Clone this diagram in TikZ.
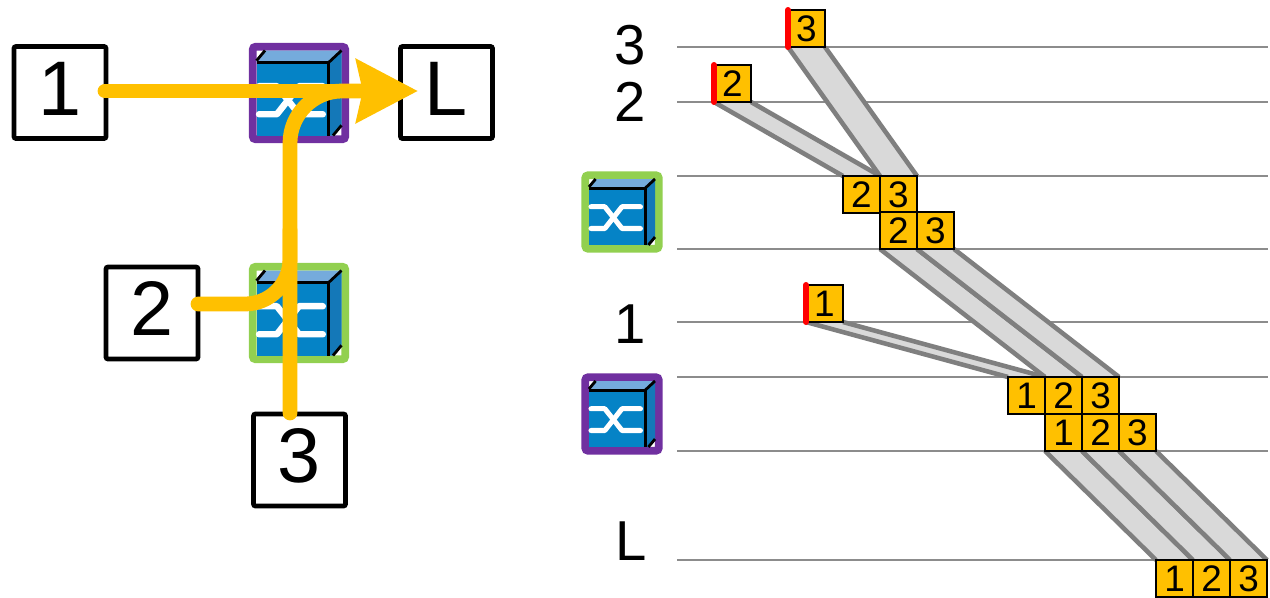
\documentclass[tikz,border=0pt]{standalone}
\usepackage{fontspec}
\setmainfont{Liberation Sans}
\usepackage{xcolor}
\usetikzlibrary{arrows.meta}
\usetikzlibrary{backgrounds}

\definecolor{flowyellow}{HTML}{FFC000}
\definecolor{swpurple}{HTML}{7030A0}
\definecolor{swgreen}{HTML}{92D050}
\definecolor{swfront}{HTML}{0583C6}
\definecolor{swside}{HTML}{1478B8}
\definecolor{swtop}{HTML}{75ABDC}
\definecolor{bandfill}{HTML}{D9D9D9}
\definecolor{bandline}{HTML}{7F7F7F}
\definecolor{rowline}{HTML}{8C8C8C}

\tikzset{
  hostbox/.style={draw=black,line width=1.35pt,rounded corners=0.6pt,minimum size=0.92cm,inner sep=0pt,outer sep=0pt,text depth=2.3pt,font=\fontsize{22}{22}\selectfont},
  swframe/.style={line width=2.2pt,rounded corners=0.8pt,inner sep=0pt,outer sep=0pt},
  flow/.style={draw=flowyellow,line width=4.2pt,line cap=round},
  packet/.style={draw=black,line width=0.55pt,fill=flowyellow,minimum size=0.37cm,inner sep=0pt,outer sep=0pt,font=\fontsize{10.5}{10.5}\selectfont},
  rowlabel/.style={inner sep=0pt,font=\fontsize{16}{16}\selectfont},
  rowrule/.style={draw=rowline,line width=0.55pt},
  bandedge/.style={draw=bandline,line width=1.3pt},
  sendmark/.style={draw=red,line width=1.7pt,line cap=round},
}

% name, centre x, centre y, inner size, frame colour
\newcommand{\switchicon}[5]{
  \node[swframe,draw=#5,minimum size={(#4+7.5)*0.01cm}] (#1) at (#2,#3) {};
  \begin{scope}[shift={(#2-#4/2,#3-#4/2)},scale=#4]
    \fill[swfront] (0,0.14) rectangle (0.85,1);
    \fill[swtop] (0,0.14) -- (0,0.1) -- (0.09,0) -- (1,0) -- (0.85,0.14) -- cycle;
    \fill[swside] (0.85,0.14) -- (1,0) -- (1,0.88) -- (0.9,1) -- (0.85,1) -- cycle;
    \draw[black,line width=0.9pt] (0,0.14) -- (0.85,0.14) -- (0.85,1);
    \draw[black,line width=0.8pt] (0.85,0.14) -- (1,0);
    \draw[black,line width=0.8pt] (0,0.12) -- (0.1,0);
    \draw[black,line width=0.8pt] (1,0.88) -- (0.9,1);
    \draw[white,line width=#4*0.0217pt,line cap=round,line join=round] (0.03,0.42) -- (0.24,0.42) -- (0.5,0.75) -- (0.78,0.75);
    \draw[white,line width=#4*0.0217pt,line cap=round,line join=round] (0.03,0.75) -- (0.24,0.75) -- (0.5,0.42) -- (0.78,0.42);
  \end{scope}
}

% gray band between two packets
\newcommand{\band}[2]{
  \fill[bandfill] (#1.south west) -- (#1.south east) -- (#2.north east) -- (#2.north west) -- cycle;
  \draw[bandedge] (#1.south west) -- (#2.north west);
  \draw[bandedge] (#1.south east) -- (#2.north east);
}

\begin{document}
\begin{tikzpicture}[x=0.01cm,y=-0.01cm]

\useasboundingbox (0,0) rectangle (1270,597);

% network
\switchicon{swtopleft}{299}{93}{85}{swpurple}
\switchicon{swbotleft}{299}{313}{85}{swgreen}

\node[hostbox] (host1) at (60,92.5) {1};
\node[hostbox] (host2) at (152,313) {2};
\node[hostbox] (host3) at (299.5,460) {3};
\node[hostbox] (hostL) at (446.5,92.5) {L};

\coordinate (start1) at (105,91);
\coordinate (start2) at (198,304);
\coordinate (start3) at (290,413);
\coordinate (endL) at (418,91);
\coordinate (join2) at (290,304);
\coordinate (up2) at (290,230);
\coordinate (join3) at (290,91);
\coordinate (right3) at (380,91);

\draw[flow,rounded corners=12.8pt] (start2) -- (join2) -- (up2);
\draw[flow,rounded corners=14.8pt] (start3) -- (join3) -- (right3);
\draw[flow,-{Stealth[length=17.4pt,width=17.6pt,inset=1.7pt]}] (start1) -- (endL);

% switches beside the rows
\switchicon{swgreen2}{622}{212}{66}{swgreen}
\switchicon{swpurple2}{622}{414}{66}{swpurple}

% row labels
\node[rowlabel] (row3) at (630,45) {3};
\node[rowlabel] (row2) at (630,102) {2};
\node[rowlabel] (row1) at (630,324) {1};
\node[rowlabel] (rowL) at (631,541) {L};

% packets
\node[packet] (a3) at (806.5,28.5) {3};
\node[packet] (a2) at (732.5,83.5) {2};
\node[packet] (a1) at (824.5,303.5) {1};

\node[packet] (b2) at (861.5,194.5) {2};
\node[packet] (b3) at (898.5,194.5) {3};
\node[packet] (c2) at (898.5,230.5) {2};
\node[packet] (c3) at (935.5,230.5) {3};

\node[packet] (d1) at (1026.5,395.5) {1};
\node[packet] (d2) at (1063.5,395.5) {2};
\node[packet] (d3) at (1100.5,395.5) {3};
\node[packet] (e1) at (1063.5,432.5) {1};
\node[packet] (e2) at (1100.5,432.5) {2};
\node[packet] (e3) at (1137.5,432.5) {3};

\node[packet] (f1) at (1174.5,578.5) {1};
\node[packet] (f2) at (1211.5,578.5) {2};
\node[packet] (f3) at (1248.5,578.5) {3};

\draw[sendmark] (a3.north west) -- (a3.south west);
\draw[sendmark] (a2.north west) -- (a2.south west);
\draw[sendmark] (a1.north west) -- (a1.south west);

\begin{scope}[on background layer]

\foreach \y in {47,102,176,249,322,377,451,560} {
  \draw[rowrule] (677,\y) -- (1268,\y);
}

\band{a3}{b3}
\band{a2}{b2}
\band{c2}{d2}
\band{c3}{d3}
\band{a1}{d1}
\band{e1}{f1}
\band{e2}{f2}
\band{e3}{f3}

\end{scope}

\end{tikzpicture}
\end{document}
